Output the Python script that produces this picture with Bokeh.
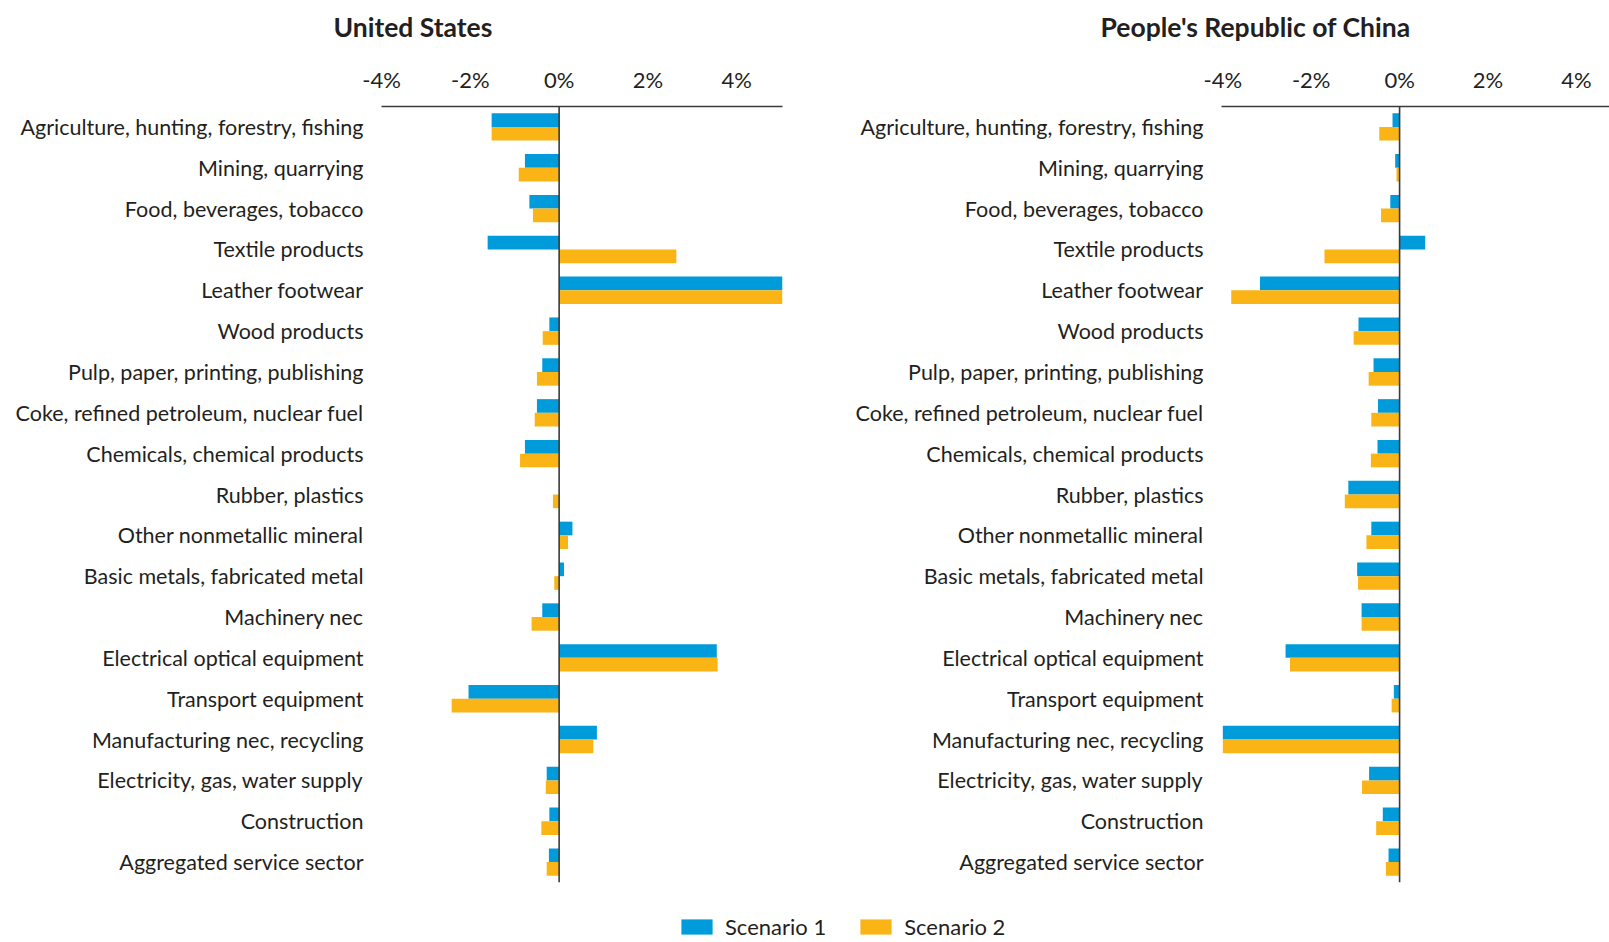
from bokeh.plotting import figure
from bokeh.layouts import column, row
from bokeh.models import (ColumnDataSource, FactorRange, Range1d, FixedTicker,
                          PrintfTickFormatter, Span, Legend, LegendItem, Label)
from bokeh.transform import dodge
from bokeh.embed import file_html
from bokeh.resources import INLINE

# ---------------- data ----------------
sectors = [
    "Agriculture, hunting, forestry, fishing",
    "Mining, quarrying",
    "Food, beverages, tobacco",
    "Textile products",
    "Leather footwear",
    "Wood products",
    "Pulp, paper, printing, publishing",
    "Coke, refined petroleum, nuclear fuel",
    "Chemicals, chemical products",
    "Rubber, plastics",
    "Other nonmetallic mineral",
    "Basic metals, fabricated metal",
    "Machinery nec",
    "Electrical optical equipment",
    "Transport equipment",
    "Manufacturing nec, recycling",
    "Electricity, gas, water supply",
    "Construction",
    "Aggregated service sector",
]

us_scenario1 = [-1.52, -0.77, -0.67, -1.61, 5.07, -0.22, -0.38, -0.50, -0.77, 0.0,
                0.30, 0.11, -0.38, 3.55, -2.04, 0.85, -0.28, -0.22, -0.23]
us_scenario2 = [-1.52, -0.91, -0.59, 2.64, 5.07, -0.37, -0.50, -0.55, -0.88, -0.14,
                0.20, -0.11, -0.62, 3.57, -2.42, 0.77, -0.30, -0.40, -0.28]

cn_scenario1 = [-0.16, -0.10, -0.21, 0.58, -3.16, -0.93, -0.59, -0.49, -0.50, -1.16,
                -0.64, -0.96, -0.86, -2.58, -0.13, -4.00, -0.69, -0.38, -0.25]
cn_scenario2 = [-0.46, -0.07, -0.42, -1.70, -3.81, -1.04, -0.70, -0.64, -0.65, -1.24,
                -0.75, -0.94, -0.86, -2.48, -0.18, -4.00, -0.85, -0.53, -0.31]

series_names = ["Scenario 1", "Scenario 2"]
panel_titles = ["United States", "People's Republic of China"]
x_ticks = [-4, -2, 0, 2, 4]

# ---------------- style ----------------
BLUE = "#009BDB"
ORANGE = "#FBB416"
TEXT = "#231F20"
AXIS = "#3A3A3A"
FONT = "Lato"

TITLE_H = 50
FIG_H = 833
TOP = 56
BOTTOM = 1


def make_panel(s1, s2, width, border_left, border_right, x_start, x_end):
    src = ColumnDataSource(dict(sector=sectors, s1=s1, s2=s2))
    p = figure(width=width, height=FIG_H, output_backend="svg", toolbar_location=None,
               y_range=FactorRange(factors=list(reversed(sectors))),
               x_range=Range1d(x_start, x_end),
               x_axis_location="above",
               min_border_left=border_left, min_border_right=border_right,
               min_border_top=TOP, min_border_bottom=BOTTOM)
    p.hbar(y=dodge("sector", 0.1675, range=p.y_range), left=0, right="s1", height=0.335,
           source=src, fill_color=BLUE, line_color=None)
    p.hbar(y=dodge("sector", -0.1675, range=p.y_range), left=0, right="s2", height=0.335,
           source=src, fill_color=ORANGE, line_color=None)

    p.add_layout(Span(location=0, dimension="height", line_color=AXIS, line_width=1.6))

    p.xgrid.visible = False
    p.ygrid.visible = False
    p.outline_line_color = None

    xa = p.xaxis[0]
    xa.ticker = FixedTicker(ticks=x_ticks)
    xa.formatter = PrintfTickFormatter(format="%d%%")
    xa.major_tick_line_color = None
    xa.minor_tick_line_color = None
    xa.major_tick_out = 0
    xa.major_tick_in = 0
    xa.axis_line_color = AXIS
    xa.axis_line_width = 1.4
    xa.major_label_text_font = FONT
    xa.major_label_text_font_size = "22px"
    xa.major_label_text_color = TEXT
    xa.major_label_standoff = 14

    ya = p.yaxis[0]
    ya.axis_line_color = None
    ya.major_tick_line_color = None
    ya.minor_tick_line_color = None
    ya.major_tick_out = 0
    ya.major_tick_in = 0
    ya.major_label_text_font = FONT
    ya.major_label_text_font_size = "21.5px"
    ya.major_label_text_color = TEXT
    ya.major_label_standoff = 18
    return p


# ---------------- title strip ----------------
tf = figure(width=1609, height=TITLE_H, output_backend="svg", toolbar_location=None,
            x_range=Range1d(0, 1), y_range=Range1d(0, 1), min_border=0)
tf.axis.visible = False
tf.grid.visible = False
tf.outline_line_color = None
for title, tx in zip(panel_titles, [333, 1100]):
    tf.add_layout(Label(x=tx, y=TITLE_H - 26, x_units="screen", y_units="screen",
                        text=title, text_font=FONT, text_font_size="26.5px",
                        text_font_style="bold", text_color=TEXT,
                        text_align="left", text_baseline="middle"))

p_us = make_panel(us_scenario1, us_scenario2,
                  width=808, border_left=381, border_right=26,
                  x_start=-4.0, x_end=5.03)
p_cn = make_panel(cn_scenario1, cn_scenario2,
                  width=801, border_left=413, border_right=0,
                  x_start=-4.03, x_end=4.75)

# ---------------- legend strip ----------------
lf = figure(width=1609, height=57, output_backend="svg", toolbar_location=None,
            x_range=Range1d(0, 1), y_range=Range1d(0, 1), min_border=0)
lf.axis.visible = False
lf.grid.visible = False
lf.outline_line_color = None
r1 = lf.hbar(y=[0.5], left=[0], right=[0], height=0.1, fill_color=BLUE, line_color=None)
r2 = lf.hbar(y=[0.5], left=[0], right=[0], height=0.1, fill_color=ORANGE, line_color=None)
legend = Legend(items=[LegendItem(label=series_names[0], renderers=[r1]),
                       LegendItem(label=series_names[1], renderers=[r2])],
                orientation="horizontal", location=(677, 0),
                glyph_width=39, glyph_height=19, label_standoff=9, spacing=30,
                padding=0, margin=0, border_line_color=None, background_fill_alpha=0,
                label_text_font=FONT, label_text_font_size="22px", label_text_color=TEXT)
lf.add_layout(legend)

layout = column(tf, row(p_us, p_cn), lf)
open("out.html", "w").write(file_html(layout, INLINE))
